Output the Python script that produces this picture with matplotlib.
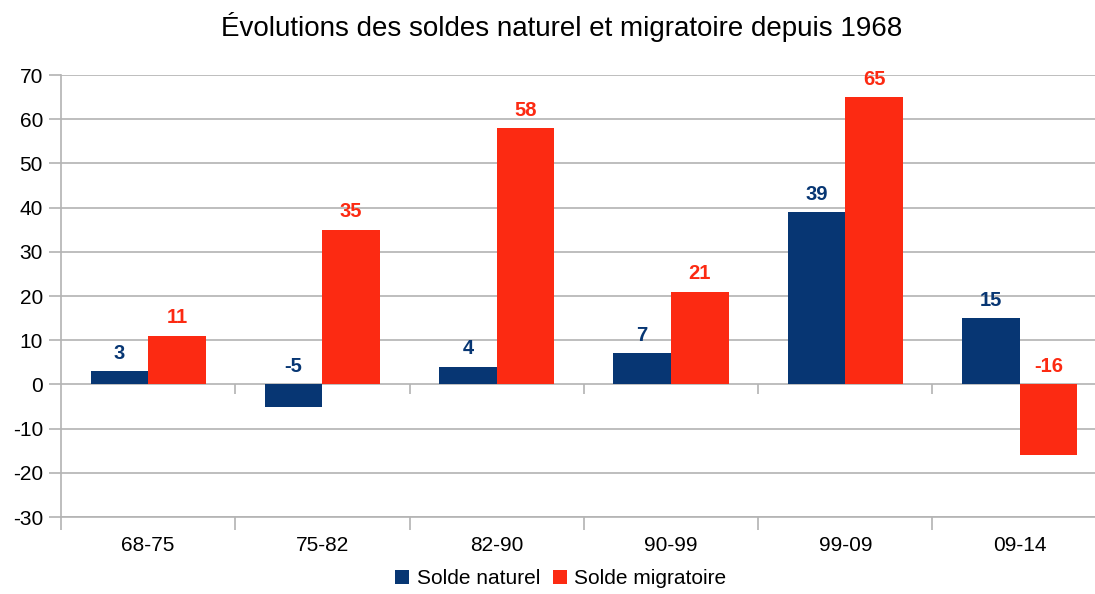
import numpy as np
import matplotlib
matplotlib.use('Agg')
import matplotlib.pyplot as plt

plt.rcParams['font.family'] = ['Liberation Sans', 'DejaVu Sans']
plt.rcParams['axes.unicode_minus'] = False

periodes = ['68-75', '75-82', '82-90', '90-99', '99-09', '09-14']
solde_naturel = [3, -5, 4, 7, 39, 15]
solde_migratoire = [11, 35, 58, 21, 65, -16]

bleu = '#073673'
rouge = '#fc2a12'
gris = '#b3b3b3'

fig = plt.figure(figsize=(10.95, 5.94), dpi=100)
ax = fig.add_axes([0.0557, 0.1296, 0.955, 0.7441])

x = np.arange(len(periodes))
w = 0.33
ax.bar(x - w / 2, solde_naturel, w, color=bleu, label='Solde naturel', zorder=3)
ax.bar(x + w / 2, solde_migratoire, w, color=rouge, label='Solde migratoire', zorder=3)

# etiquettes au-dessus des barres (au-dessus de 0 pour les negatifs)
for xi, v in zip(x - w / 2, solde_naturel):
    ax.annotate(str(v), (xi, max(v, 0)), xytext=(0, 6), textcoords='offset points',
                ha='center', va='bottom', color=bleu, fontsize=14.5, fontweight='bold')
for xi, v in zip(x + w / 2, solde_migratoire):
    ax.annotate(str(v), (xi, max(v, 0)), xytext=(0, 6), textcoords='offset points',
                ha='center', va='bottom', color=rouge, fontsize=14.5, fontweight='bold')

ax.set_xlim(-0.5, len(periodes) - 0.5)
ax.set_ylim(-30, 70)
ax.set_yticks(np.arange(-30, 71, 10))
ax.set_xticks(x)
ax.set_xticklabels(periodes)
ax.set_xticks(np.arange(-0.5, len(periodes)), minor=True)
ax.tick_params(axis='x', which='major', length=0, pad=14, labelsize=15)
ax.tick_params(axis='x', which='minor', length=9, color=gris, width=1.2)
ax.tick_params(axis='y', length=9, color=gris, width=1.2, labelsize=15, pad=4)

ax.grid(axis='y', color=gris, linewidth=1.2, zorder=0)
for s in ['top', 'right']:
    ax.spines[s].set_visible(False)
for s in ['left', 'bottom']:
    ax.spines[s].set_color(gris)
    ax.spines[s].set_linewidth(1.2)

# petites graduations sur la ligne du zero
ax.vlines(np.arange(0.5, len(periodes)), -2.1, 0, color=gris, linewidth=1.2, zorder=1)

fig.suptitle('Évolutions des soldes naturel et migratoire depuis 1968', fontsize=20,
             x=0.513, y=0.98)
fig.legend(loc='lower center', ncol=2, frameon=False, fontsize=15,
           handlelength=0.7, handleheight=0.7, handletextpad=0.35, columnspacing=0.6,
           bbox_to_anchor=(0.512, -0.022))

fig.savefig('out.png', dpi=100)
